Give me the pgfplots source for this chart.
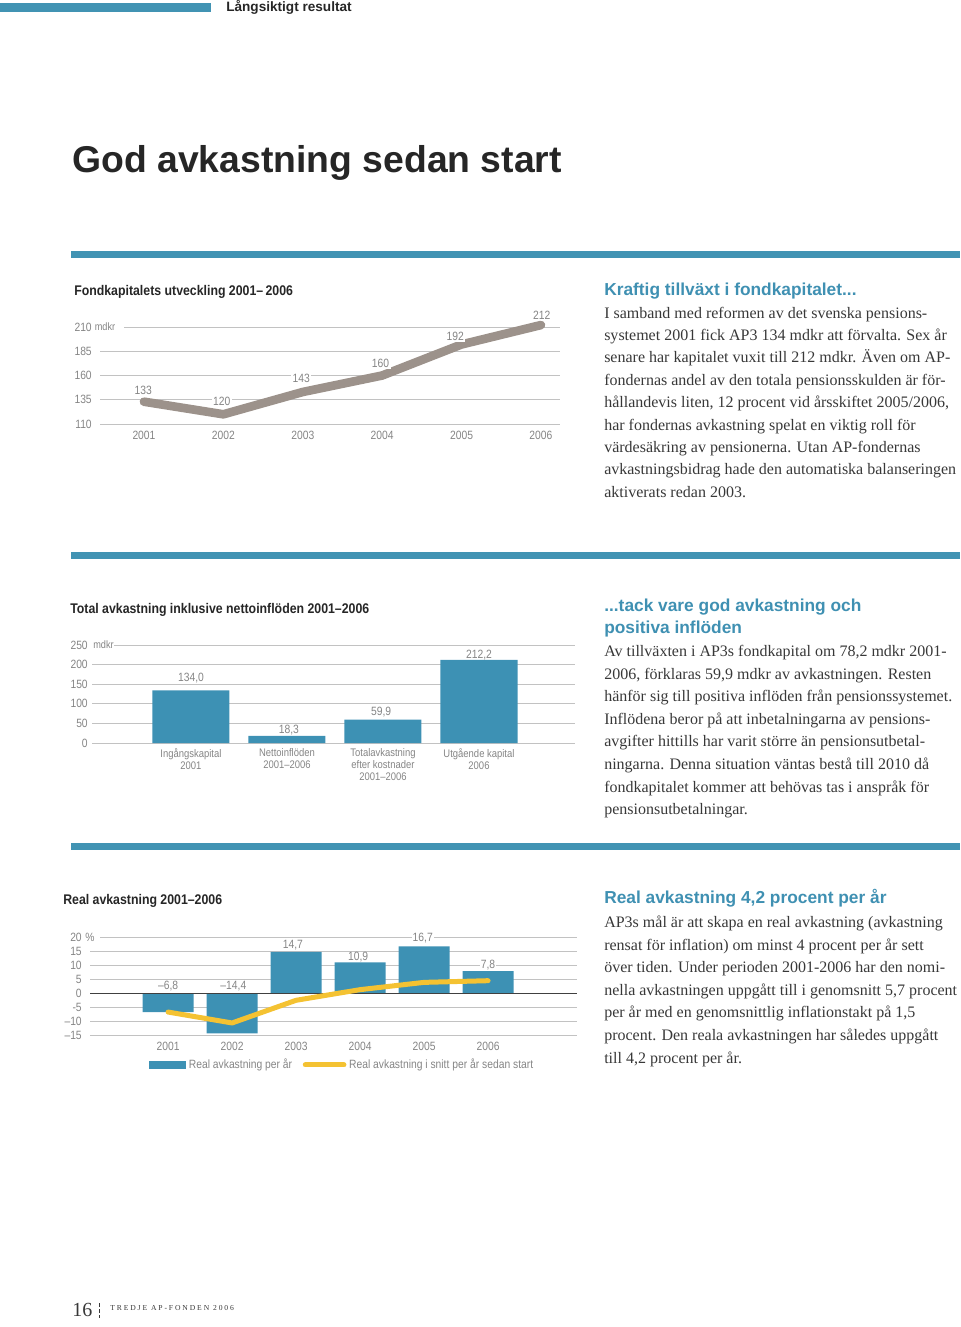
\documentclass[border=0pt]{standalone}
\usepackage{fontspec}
\usepackage{pgfplots}
\pgfplotsset{compat=1.18}
\setmainfont{Liberation Serif}
\newfontfamily\sansf{Liberation Sans}
\newfontfamily\condf[FakeStretch=0.88]{Liberation Sans}
\newfontfamily\lightf[FakeStretch=0.86]{Liberation Sans}
\newfontfamily\spacedf[LetterSpace=25]{Liberation Serif}
\definecolor{apblue}{HTML}{3D91B4}
\definecolor{rulec}{HTML}{4193B3}
\definecolor{linegray}{HTML}{9C928B}
\definecolor{ygold}{HTML}{F4C232}
\definecolor{txt}{HTML}{383838}
\definecolor{lab}{HTML}{858585}
\definecolor{gridc}{HTML}{C2C2C2}
\definecolor{headblue}{HTML}{3F90B2}
\pgfplotsset{
  mystyle/.style={
    scale only axis, clip=false,
    axis line style={draw=none}, tick style={draw=none},
    ymajorgrids, grid style={gridc, line width=0.5pt},
    tick label style={font=\lightf\fontsize{9}{10}\selectfont, text=lab, inner sep=0pt},
    xticklabel style={yshift=-5pt},
  },
}
\tikzset{lbl/.style={font=\lightf\fontsize{9}{10}\selectfont, text=lab, fill=white, inner sep=1pt},
  lbln/.style={font=\lightf\fontsize{9}{10}\selectfont, text=lab, inner sep=0pt},
  lblf/.style={font=\lightf\fontsize{9}{10}\selectfont, text=lab, fill=white, inner sep=0.6pt}}
\newcommand{\body}{\fontsize{12}{14}\selectfont\color{txt}}
\newcommand{\headf}{\sansf\bfseries\fontsize{13}{15}\selectfont\color{headblue}}
\newcommand{\ctitle}{\condf\bfseries\fontsize{10.5}{12}\selectfont\color{black!85}}
\begin{document}
\begin{tikzpicture}[x=0.75pt,y=-0.75pt]
\path[use as bounding box] (0,0) rectangle (960,1327);
% header
\fill[rulec] (0,3) rectangle (211,12);
\node[anchor=base west, inner sep=0, font=\sansf\bfseries\fontsize{10.2}{12}\selectfont, text=black!85] at (226,12) {Långsiktigt resultat};
\node[anchor=base west, inner sep=0, font=\sansf\bfseries\fontsize{28}{32}\selectfont, text=black!85] at (72,173) {God avkastning sedan start};
\fill[rulec] (71,251) rectangle (960,257.5);
\fill[rulec] (71,552) rectangle (960,558.5);
\fill[rulec] (71,843) rectangle (960,849.5);

% ---------- Chart 1
\node[anchor=base west, inner sep=0, font=\ctitle] at (74,295) {Fondkapitalets utveckling 2001–\,2006};
\begin{axis}[mystyle, at={(75pt,-318pt)}, anchor=south west,
  width=345pt, height=72.75pt,
  xmin=2000.446, xmax=2006.24, ymin=110, ymax=210,
  ytick={110,135,160,185,210}, yticklabels={110,135,160,185,210},
  yticklabel style={xshift=-6pt},
  xtick={2001,2002,2003,2004,2005,2006},
  xticklabels={2001,2002,2003,2004,2005,2006}]
\addplot[linegray, line width=6.5pt, line cap=round, line join=round] coordinates {(2001,133) (2002,120) (2003,143) (2004,160) (2005,192) (2006,212)};
\node[lbl] at (axis cs:2000.99,145) {133};
\node[lbl] at (axis cs:2001.98,133.7) {120};
\node[lbl] at (axis cs:2002.98,157.4) {143};
\node[lbl] at (axis cs:2003.98,172.9) {160};
\node[lbl] at (axis cs:2004.92,200.7) {192};
\node[lbl] at (axis cs:2006.01,222.4) {212};
\end{axis}
\fill[white] (93,321) rectangle (124,333);
\node[anchor=west, inner sep=0, font=\lightf\fontsize{8}{9}\selectfont, text=lab] at (94.5,327) {mdkr};

% ---------- Chart 2
\node[anchor=base west, inner sep=0, font=\ctitle] at (70,613) {Total avkastning inklusive nettoinflöden 2001–2006};
\begin{axis}[mystyle, at={(69pt,-557.25pt)}, anchor=south west,
  width=362.25pt, height=73.5pt,
  xmin=-1.031, xmax=4.0, ymin=0, ymax=250,
  ytick={0,50,100,150,200,250}, yticklabels={0,50,100,150,200,250},
  yticklabel style={xshift=-3pt},
  xtick={0,1,2,3},
  xticklabels={{Ingångskapital\\2001},{Nettoinflöden\\2001–2006},{Totalavkastning\\efter kostnader\\2001–2006},{Utgående kapital\\2006}},
  xticklabel style={font=\lightf\fontsize{8.25}{9}\selectfont, align=center, yshift=1pt}]
\addplot[ybar, bar width=57.75pt, fill=apblue, draw=none] coordinates {(0,134.0) (1,18.3) (2,59.9) (3,212.2)};
\node[lbln] at (axis cs:0,166.5) {134,0};
\node[lbln] at (axis cs:1.02,34) {18,3};
\node[lbln] at (axis cs:1.98,80) {59,9};
\node[lbln] at (axis cs:3,225.5) {212,2};
\end{axis}
\fill[white] (91,639) rectangle (114,651);
\node[anchor=west, inner sep=0, font=\lightf\fontsize{8}{9}\selectfont, text=lab] at (93,645) {mdkr};

% ---------- Chart 3
\node[anchor=base west, inner sep=0, font=\ctitle] at (63,904) {Real avkastning 2001–2006};
\begin{axis}[mystyle, at={(67.5pt,-776.25pt)}, anchor=south west,
  width=365.25pt, height=73.5pt,
  xmin=1999.78, xmax=2007.39, ymin=-15, ymax=20,
  ytick={-15,-10,-5,5,10,15,20}, yticklabels={–15,–10,-5,5,10,15,20},
  extra y ticks={0}, extra y tick labels={0},
  yticklabel style={xshift=-6pt},
  xtick={2001,2002,2003,2004,2005,2006},
  xticklabels={2001,2002,2003,2004,2005,2006},
  legend columns=2,
  legend style={at={(0.121,-0.306)}, anchor=west, draw=none, fill=none, inner sep=0pt,
    font=\lightf\fontsize{9}{10}\selectfont, text=lab,
    /tikz/every even column/.append style={column sep=6pt}},
  legend cell align=left]
\addplot[ybar, bar width=38.25pt, fill=apblue, draw=none,
  legend image code/.code={\fill[apblue] (0pt,-3pt) rectangle (27.75pt,3pt);}]
  coordinates {(2001,-6.8) (2002,-14.4) (2003,14.7) (2004,10.9) (2005,16.7) (2006,7.8)};
\addlegendentry{Real avkastning per år}
\addplot[black!75, line width=0.6pt, forget plot] coordinates {(1999.78,0) (2007.39,0)};
\addplot[ygold, line width=3.75pt, line cap=round, line join=round,
  legend image code/.code={\draw[ygold, line width=3.75pt, line cap=round] (1.9pt,0pt) -- (20.6pt,0pt); \path (0pt,0pt) -- (29pt,0pt);}]
  coordinates {(2001,-6.8) (2002,-10.7) (2003,-2.6) (2004,1.2) (2005,3.8) (2006,4.4)};
\addlegendentry{Real avkastning i snitt per år sedan start}
\node[lbln] at (axis cs:2001,2.5) {–6,8};
\node[lbln] at (axis cs:2002.02,2.5) {–14,4};
\node[lbln] at (axis cs:2002.95,17.0) {14,7};
\node[lbln] at (axis cs:2003.97,12.8) {10,9};
\node[lblf] at (axis cs:2004.98,19.7) {16,7};
\node[lblf] at (axis cs:2006.0,10.0) {7,8};
\end{axis}
\fill[white] (84,931) rectangle (99.5,943);
\node[anchor=west, inner sep=0, font=\lightf\fontsize{9}{10}\selectfont, text=lab] at (85,937) {\%};

% ---------- Right column text
\node[anchor=base west, inner sep=0, font=\headf] at (604,295) {Kraftig tillväxt i fondkapitalet...};
\foreach \t [count=\i from 0] in {
 {I samband med reformen av det svenska pensions-},
 {systemet 2001 fick AP3 134 mdkr att förvalta. Sex år},
 {senare har kapitalet vuxit till 212 mdkr. Även om AP-},
 {fondernas andel av den totala pensionsskulden är för-},
 {hållandevis liten, 12 procent vid årsskiftet 2005/2006,},
 {har fondernas avkastning spelat en viktig roll för},
 {värdesäkring av pensionerna. Utan AP-fondernas},
 {avkastningsbidrag hade den automatiska balanseringen},
 {aktiverats redan 2003.}}
 \node[anchor=base west, inner sep=0, font=\body] at (604,318+22.4*\i) {\t};

\node[anchor=base west, inner sep=0, font=\headf] at (604,611) {...tack vare god avkastning och};
\node[anchor=base west, inner sep=0, font=\headf] at (604,633) {positiva inflöden};
\foreach \t [count=\i from 0] in {
 {Av tillväxten i AP3s fondkapital om 78,2 mdkr 2001-},
 {2006, förklaras 59,9 mdkr av avkastningen. Resten},
 {hänför sig till positiva inflöden från pensionssystemet.},
 {Inflödena beror på att inbetalningarna av pensions-},
 {avgifter hittills har varit större än pensionsutbetal-},
 {ningarna. Denna situation väntas bestå till 2010 då},
 {fondkapitalet kommer att behövas tas i anspråk för},
 {pensionsutbetalningar.}}
 \node[anchor=base west, inner sep=0, font=\body] at (604,656.5+22.6*\i) {\t};

\node[anchor=base west, inner sep=0, font=\headf] at (604,903) {Real avkastning 4,2 procent per år};
\foreach \t [count=\i from 0] in {
 {AP3s mål är att skapa en real avkastning (avkastning},
 {rensat för inflation) om minst 4 procent per år sett},
 {över tiden. Under perioden 2001-2006 har den nomi-},
 {nella avkastningen uppgått till i genomsnitt 5,7 procent},
 {per år med en genomsnittlig inflationstakt på 1,5},
 {procent. Den reala avkastningen har således uppgått},
 {till 4,2 procent per år.}}
 \node[anchor=base west, inner sep=0, font=\body] at (604,927.5+22.6*\i) {\t};

% ---------- Footer
\node[anchor=base west, inner sep=0, font=\fontsize{15}{17}\selectfont, text=txt] at (72,1316.5) {16};
\draw[txt, line width=0.6pt, dash pattern=on 3pt off 1.5pt] (99,1303) -- (99,1318);
\node[anchor=base west, inner sep=0, font=\spacedf\fontsize{5.7}{7}\selectfont, text=txt] at (110,1310.5) {TREDJE AP-FONDEN 2006};
\end{tikzpicture}
\end{document}
